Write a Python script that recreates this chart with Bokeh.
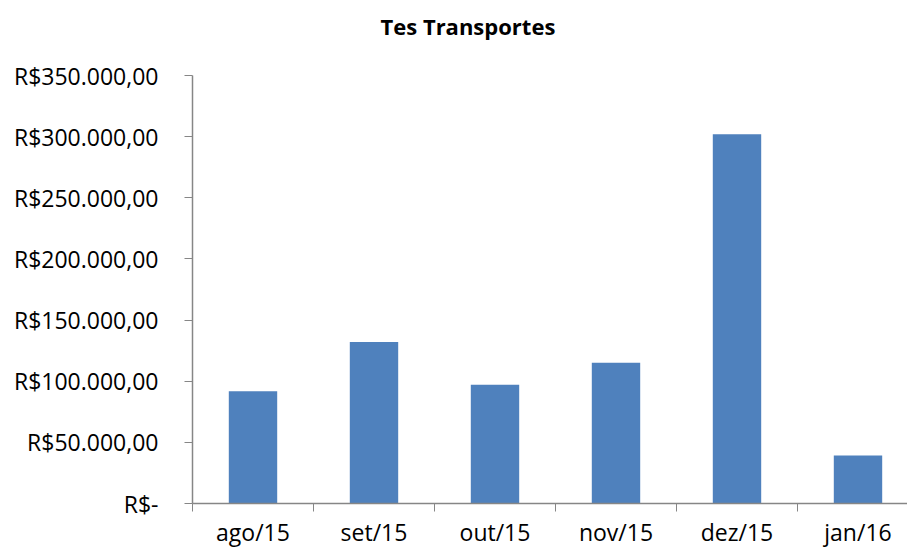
from bokeh.plotting import figure
from bokeh.models import Range1d, FixedTicker
from bokeh.embed import file_html
from bokeh.resources import INLINE

title = "Tes Transportes"
months = ["ago/15", "set/15", "out/15", "nov/15", "dez/15", "jan/16"]
values = [91800, 132000, 97200, 115200, 302000, 39200]
y_ticks = [0, 50000, 100000, 150000, 200000, 250000, 300000, 350000]


def brl(v):
    if v == 0:
        return "R$-"
    s = f"{v:,.2f}".replace(",", "X").replace(".", ",").replace("X", ".")
    return "R$" + s


FONT = "Open Sans"
AXIS_COLOR = "#868686"

x = list(range(len(months)))
p = figure(width=907, height=550, output_backend="svg", toolbar_location=None,
           x_range=Range1d(-0.5, -0.5 + 715 / 121), y_range=Range1d(0, 350000),
           min_border_left=192, min_border_right=0, min_border_top=75, min_border_bottom=40)
p.vbar(x=x, top=values, width=0.4, fill_color="#4F81BD", line_color=None)

p.title.text = title
p.title.align = "left"
p.title.offset = 188
p.title.vertical_align = "top"
p.title.standoff = 8
p.title.padding = dict(top=0, right=0, bottom=29, left=0)
p.title.text_font = FONT
p.title.text_font_size = "22px"
p.title.text_font_style = "bold"
p.title.text_color = "black"

p.xgrid.grid_line_color = None
p.ygrid.grid_line_color = None
p.outline_line_color = None

xa = p.xaxis[0]
xa.ticker = FixedTicker(ticks=x, minor_ticks=[i - 0.5 for i in range(len(months) + 1)])
xa.major_label_overrides = {i: m for i, m in enumerate(months)}
xa.major_tick_line_color = None
xa.major_tick_out = 0
xa.major_tick_in = 0
xa.minor_tick_out = 8
xa.minor_tick_in = 0
xa.minor_tick_line_color = AXIS_COLOR
xa.axis_line_color = AXIS_COLOR
xa.axis_line_width = 1.5
xa.major_label_standoff = 4
xa.major_label_text_font = FONT
xa.major_label_text_font_size = "23px"
xa.major_label_text_color = "black"

ya = p.yaxis[0]
ya.ticker = FixedTicker(ticks=y_ticks, minor_ticks=[])
ya.major_label_overrides = {v: brl(v) for v in y_ticks}
ya.major_tick_out = 8
ya.major_tick_in = 0
ya.major_tick_line_color = AXIS_COLOR
ya.axis_line_color = AXIS_COLOR
ya.axis_line_width = 1.5
ya.major_label_standoff = 26
ya.major_label_text_font = FONT
ya.major_label_text_font_size = "23px"
ya.major_label_text_color = "black"

open("out.html", "w").write(file_html(p, INLINE))
